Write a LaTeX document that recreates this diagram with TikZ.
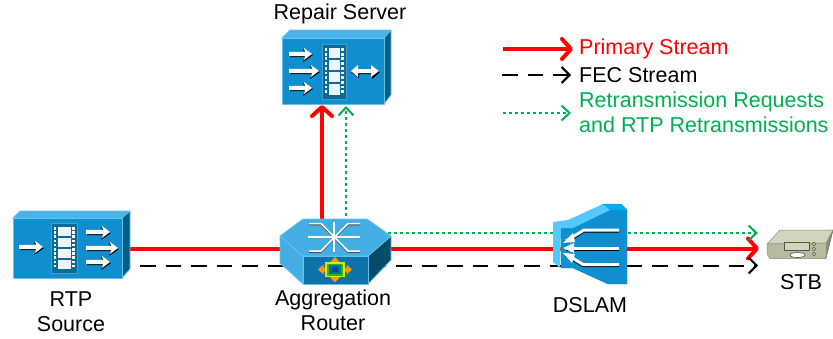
\documentclass[tikz,border=0pt]{standalone}
\usepackage{fontspec}
\setmainfont{Liberation Sans}
\usetikzlibrary{arrows.meta}
\definecolor{legred}{HTML}{FF0000}
\definecolor{leggreen}{HTML}{00B050}
\definecolor{bfront}{HTML}{0F8FD0}
\definecolor{btop}{HTML}{4AB2E6}
\definecolor{bside}{HTML}{045F85}
\definecolor{bedge}{HTML}{63C3EE}
\definecolor{filmdark}{HTML}{0A6A9A}
\definecolor{filmedge}{HTML}{4C9CC4}
\definecolor{stbfront}{HTML}{B9BBA0}
\definecolor{stbtop}{HTML}{D3D4C0}
\definecolor{stbside}{HTML}{8C8E72}
\definecolor{dslamlight}{HTML}{55C8FF}
\definecolor{dslamtop}{HTML}{00AEEF}
\tikzset{
  x=1pt,y=-1pt,
  anchorbox/.style={inner sep=0pt,outer sep=0pt,minimum width=#1,minimum height=60pt},
  lbl/.style={font=\fontsize{21.5}{25.5}\selectfont,align=center,inner sep=0pt},
  leglbl/.style={font=\fontsize{21.5}{25}\selectfont,align=left,anchor=west,inner sep=0pt},
  primary/.style={draw=legred,line width=4pt},
  primarytip/.style={primary,-{Straight Barb[length=9pt,width=20pt,line width=4pt,round]}},
  fec/.style={draw=black,line width=2pt,dash pattern=on 15.5pt off 10.1pt,-{Straight Barb[length=8pt,width=16pt,line width=2pt]}},
  dots/.style={draw=leggreen,line width=2pt,dash pattern=on 3pt off 3pt,-{Straight Barb[length=8pt,width=15pt,line width=2pt]}},
  face/.style={draw=bedge,line width=.8pt,line join=round},
}
\newcommand{\wharrow}[3]{% x1, x2, y
  \fill[black] (#1+1,#3+3) -- (#2-7,#3+3) -- (#2-9,#3+8) -- (#2+1,#3+1) -- (#2-9,#3-5) -- (#2-7,#3) -- (#1+1,#3) -- cycle;
  \fill[white] (#1,#3+2.2) -- (#2-7,#3+2.2) -- (#2-8,#3+6) -- (#2,#3) -- (#2-8,#3-6) -- (#2-7,#3-2.2) -- (#1,#3-2.2) -- cycle;
}
\newcommand{\filmicon}[4]{% x1,y1,x2,y2
  \fill[filmdark,draw=filmedge,line width=1pt] (#1,#2) rectangle (#3,#4);
  \pgfmathsetmacro{\fh}{(#4-#2-6)/4}
  \foreach \i in {0,1,2,3}{
    \fill[white!90!filmedge] (#1+6.5,{#2+3.5+\i*\fh}) rectangle (#3-6.5,{#2+3+(\i+1)*\fh-1.5});
  }
  \pgfmathsetmacro{\ph}{(#4-#2-8)/10}
  \foreach \i in {0,...,9}{
    \fill[white] (#1+2.5,{#2+4+\i*\ph}) rectangle (#1+5,{#2+4+(\i+.6)*\ph});
    \fill[white] (#3-5,{#2+4+\i*\ph}) rectangle (#3-2.5,{#2+4+(\i+.6)*\ph});
  }
}
\begin{document}
\begin{tikzpicture}
\useasboundingbox (0,0) rectangle (833,338);
% anchor nodes for icons
\node[anchorbox=109pt] (source) at (67.5,248.5) {};
\node[anchorbox=111pt] (router) at (335.5,248.5) {};
\node[anchorbox=70pt] (dslam) at (590,248.5) {};
\node[inner sep=0pt,minimum width=60pt,minimum height=30pt] (stb) at (798,248.5) {};
\node[inner sep=0pt,minimum width=109pt,minimum height=66pt] (repair) at (336,71) {};
\coordinate (primaryEnd) at (759,248.5);
\coordinate (fecStart) at (140,265.5);
\coordinate (fecEnd) at (758,265.5);
\coordinate (retrStart) at (388,233);
\coordinate (retrEnd) at (758,233);
\coordinate (upRed) at (322,222);
\coordinate (upRedEnd) at (322,105);
\coordinate (upGreen) at (346,222);
\coordinate (upGreenEnd) at (346,106);
\coordinate (legA1) at (503,49);\coordinate (legA2) at (573,49);
\coordinate (legB1) at (502,75);\coordinate (legB2) at (571,75);
\coordinate (legC1) at (503,113);\coordinate (legC2) at (571,113);
% connectors
\draw[primary] (source.east) -- (router.center);
\draw[primary] (router.center) -- (dslam.center);
\draw[primarytip] (dslam.center) -- (primaryEnd);
\draw[fec] (fecStart) -- (fecEnd);
\draw[dots] (retrStart) -- (retrEnd);
\draw[primarytip] (upRed) -- (upRedEnd);
\draw[dots] (upGreen) -- (upGreenEnd);
\draw[primarytip] (legA1) -- (legA2);
\draw[fec] (legB1) -- (legB2);
\draw[dots] (legC1) -- (legC2);
% repair server
\fill[btop,face] (282,38) -- (290,30) -- (391,30) -- (384,38) -- cycle;
\fill[bside,face] (384,38) -- (391,30) -- (391,95) -- (384,104) -- cycle;
\fill[bfront,face] (282,38) rectangle (384,104);
\filmicon{322}{44}{346}{99}
\wharrow{289}{312}{54}
\wharrow{289}{319}{71}
\wharrow{289}{312}{88}
\fill[black] (356,72) -- (351,72) -- (359,78) -- (359,74) -- (372,74) -- (372,79) -- (380,72) -- (372,66) -- (372,70) -- (359,70) -- cycle;
\fill[white] (351,71) -- (358,65) -- (358,69) -- (371,69) -- (371,65) -- (379,71) -- (371,77) -- (371,73) -- (358,73) -- (358,77) -- cycle;
% RTP source
\fill[btop,face] (13,218) -- (20,211) -- (130,211) -- (122,218) -- cycle;
\fill[bside,face] (122,218) -- (130,211) -- (130,269) -- (122,278) -- cycle;
\fill[bfront,face] (13,218) rectangle (122,278);
\filmicon{51}{223}{77}{273}
\wharrow{19}{43}{247}
\wharrow{86}{110}{232}
\wharrow{86}{118}{248}
\wharrow{86}{110}{262}
% router
\fill[bside!80!black,face] (368,256) -- (391,236) -- (391,260) -- (368,284) -- cycle;
\fill[btop!90!bfront,face] (280,236) -- (303,256) -- (303,284) -- (280,263) -- cycle;
\fill[bfront!80!black,face] (303,256) rectangle (368,284);
\fill[btop!90!bfront,face] (280,236) -- (303,219) -- (367,219) -- (391,236) -- (368,256) -- (303,256) -- cycle;
\begin{scope}[line width=1.5pt,line join=miter]
\draw[black!70] (309,224.5) -- (321,224.5) -- (348,252) -- (360,252);
\draw[black!70] (360,224.5) -- (348,224.5) -- (321,252) -- (309,252);
\draw[white] (309,223.5) -- (321,223.5) -- (348,251) -- (360,251);
\draw[white] (360,223.5) -- (348,223.5) -- (321,251) -- (309,251);
\draw[white] (308,237) -- (360,237);
\draw[white] (334,222) -- (334,252);
\end{scope}
% router front emblem
\fill[orange!80!yellow] (335,257) -- (340,262.5) -- (337,262.5) -- (337,264) -- (333,264) -- (333,262.5) -- (330,262.5) -- cycle;
\fill[orange!80!yellow] (335,282.5) -- (340,277) -- (337,277) -- (337,275) -- (333,275) -- (333,277) -- (330,277) -- cycle;
\fill[orange!80!yellow] (318,269.5) -- (323.5,264.5) -- (323.5,267.5) -- (326,267.5) -- (326,271.5) -- (323.5,271.5) -- (323.5,274.5) -- cycle;
\fill[orange!80!yellow] (352,269.5) -- (346.5,264.5) -- (346.5,267.5) -- (344,267.5) -- (344,271.5) -- (346.5,271.5) -- (346.5,274.5) -- cycle;
\fill[yellow!85!green] (325,262) rectangle (345,277);
\fill[green!65!black!80!yellow] (327,263.5) rectangle (343,275.5);
\fill[teal!90!blue] (329,265) rectangle (341,274);
\fill[bside!70!blue] (332,267) rectangle (338,272);
% DSLAM
\fill[bfront,draw=bfront,line join=round] (561,228) -- (568,228) -- (603,204) -- (621,204) -- (627,210) -- (627,284) -- (608,284) -- (573,268) -- (561,268) -- cycle;
\fill[dslamlight] (553,222) -- (568,220) -- (603,204) -- (610,210) -- (573,228) -- (561,228) -- cycle;
\fill[dslamtop] (603,204) -- (621,204) -- (627,210) -- (610,210) -- cycle;
\fill[dslamlight] (553,222) -- (561,228) -- (560,268) -- (553,262) -- cycle;
\begin{scope}[line width=3pt]
\draw[black] (619,231) -- (584,231) -- (566,242);
\draw[black] (619,249) -- (566,249);
\draw[black] (619,265.5) -- (583,265.5) -- (566,255);
\draw[white] (619,230) -- (584,230) -- (566,241);
\draw[white] (619,248) -- (566,248);
\draw[white] (619,264.5) -- (583,264.5) -- (566,254);
\fill[white] (563,243) -- (573,233) -- (575,242) -- cycle;
\fill[white] (563,248) -- (574,243) -- (574,253) -- cycle;
\fill[white] (563,253) -- (575,254) -- (572,263) -- cycle;
\end{scope}
% STB
\fill[stbside,draw=stbside!70!black,line width=.5pt,line join=round] (826,230) -- (833,230) -- (826,258) -- (819,258) -- cycle;
\fill[stbtop,draw=stbside,line width=.5pt,line join=round] (767,244) -- (780,230) -- (833,230) -- (826,243) -- cycle;
\fill[stbfront,draw=stbside,line width=.5pt,line join=round] (767,244) -- (826,243) -- (826,258.5) -- (770,258.5) -- (767,254) -- cycle;
\draw[stbside!60!black,line width=.7pt,fill=stbtop] (784,242) rectangle (809,250);
\draw[stbside!60!black,line width=.6pt,fill=white] (797.5,255) ellipse (7.5 and 2.5);
\foreach \yy in {244,249,254}{\draw[stbside!60!black,line width=.5pt,fill=stbtop] (814,\yy) circle (1.7);}
% labels
\node[lbl] (lblRepair) at (340,14) {Repair Server};
\node[lbl] (lblSource) at (71,311.5) {RTP\\Source};
\node[lbl] (lblRouter) at (333,310.5) {Aggregation\\Router};
\node[lbl] (lblDslam) at (590,305) {DSLAM};
\node[lbl] (lblStb) at (801,282) {STB};
\node[leglbl,text=legred] (lgA) at (579,49) {Primary Stream};
\node[leglbl,text=black] (lgB) at (579,75) {FEC Stream};
\node[leglbl,text=leggreen] (lgC) at (579,112.5) {Retransmission Requests\\and RTP Retransmissions};
\end{tikzpicture}
\end{document}
